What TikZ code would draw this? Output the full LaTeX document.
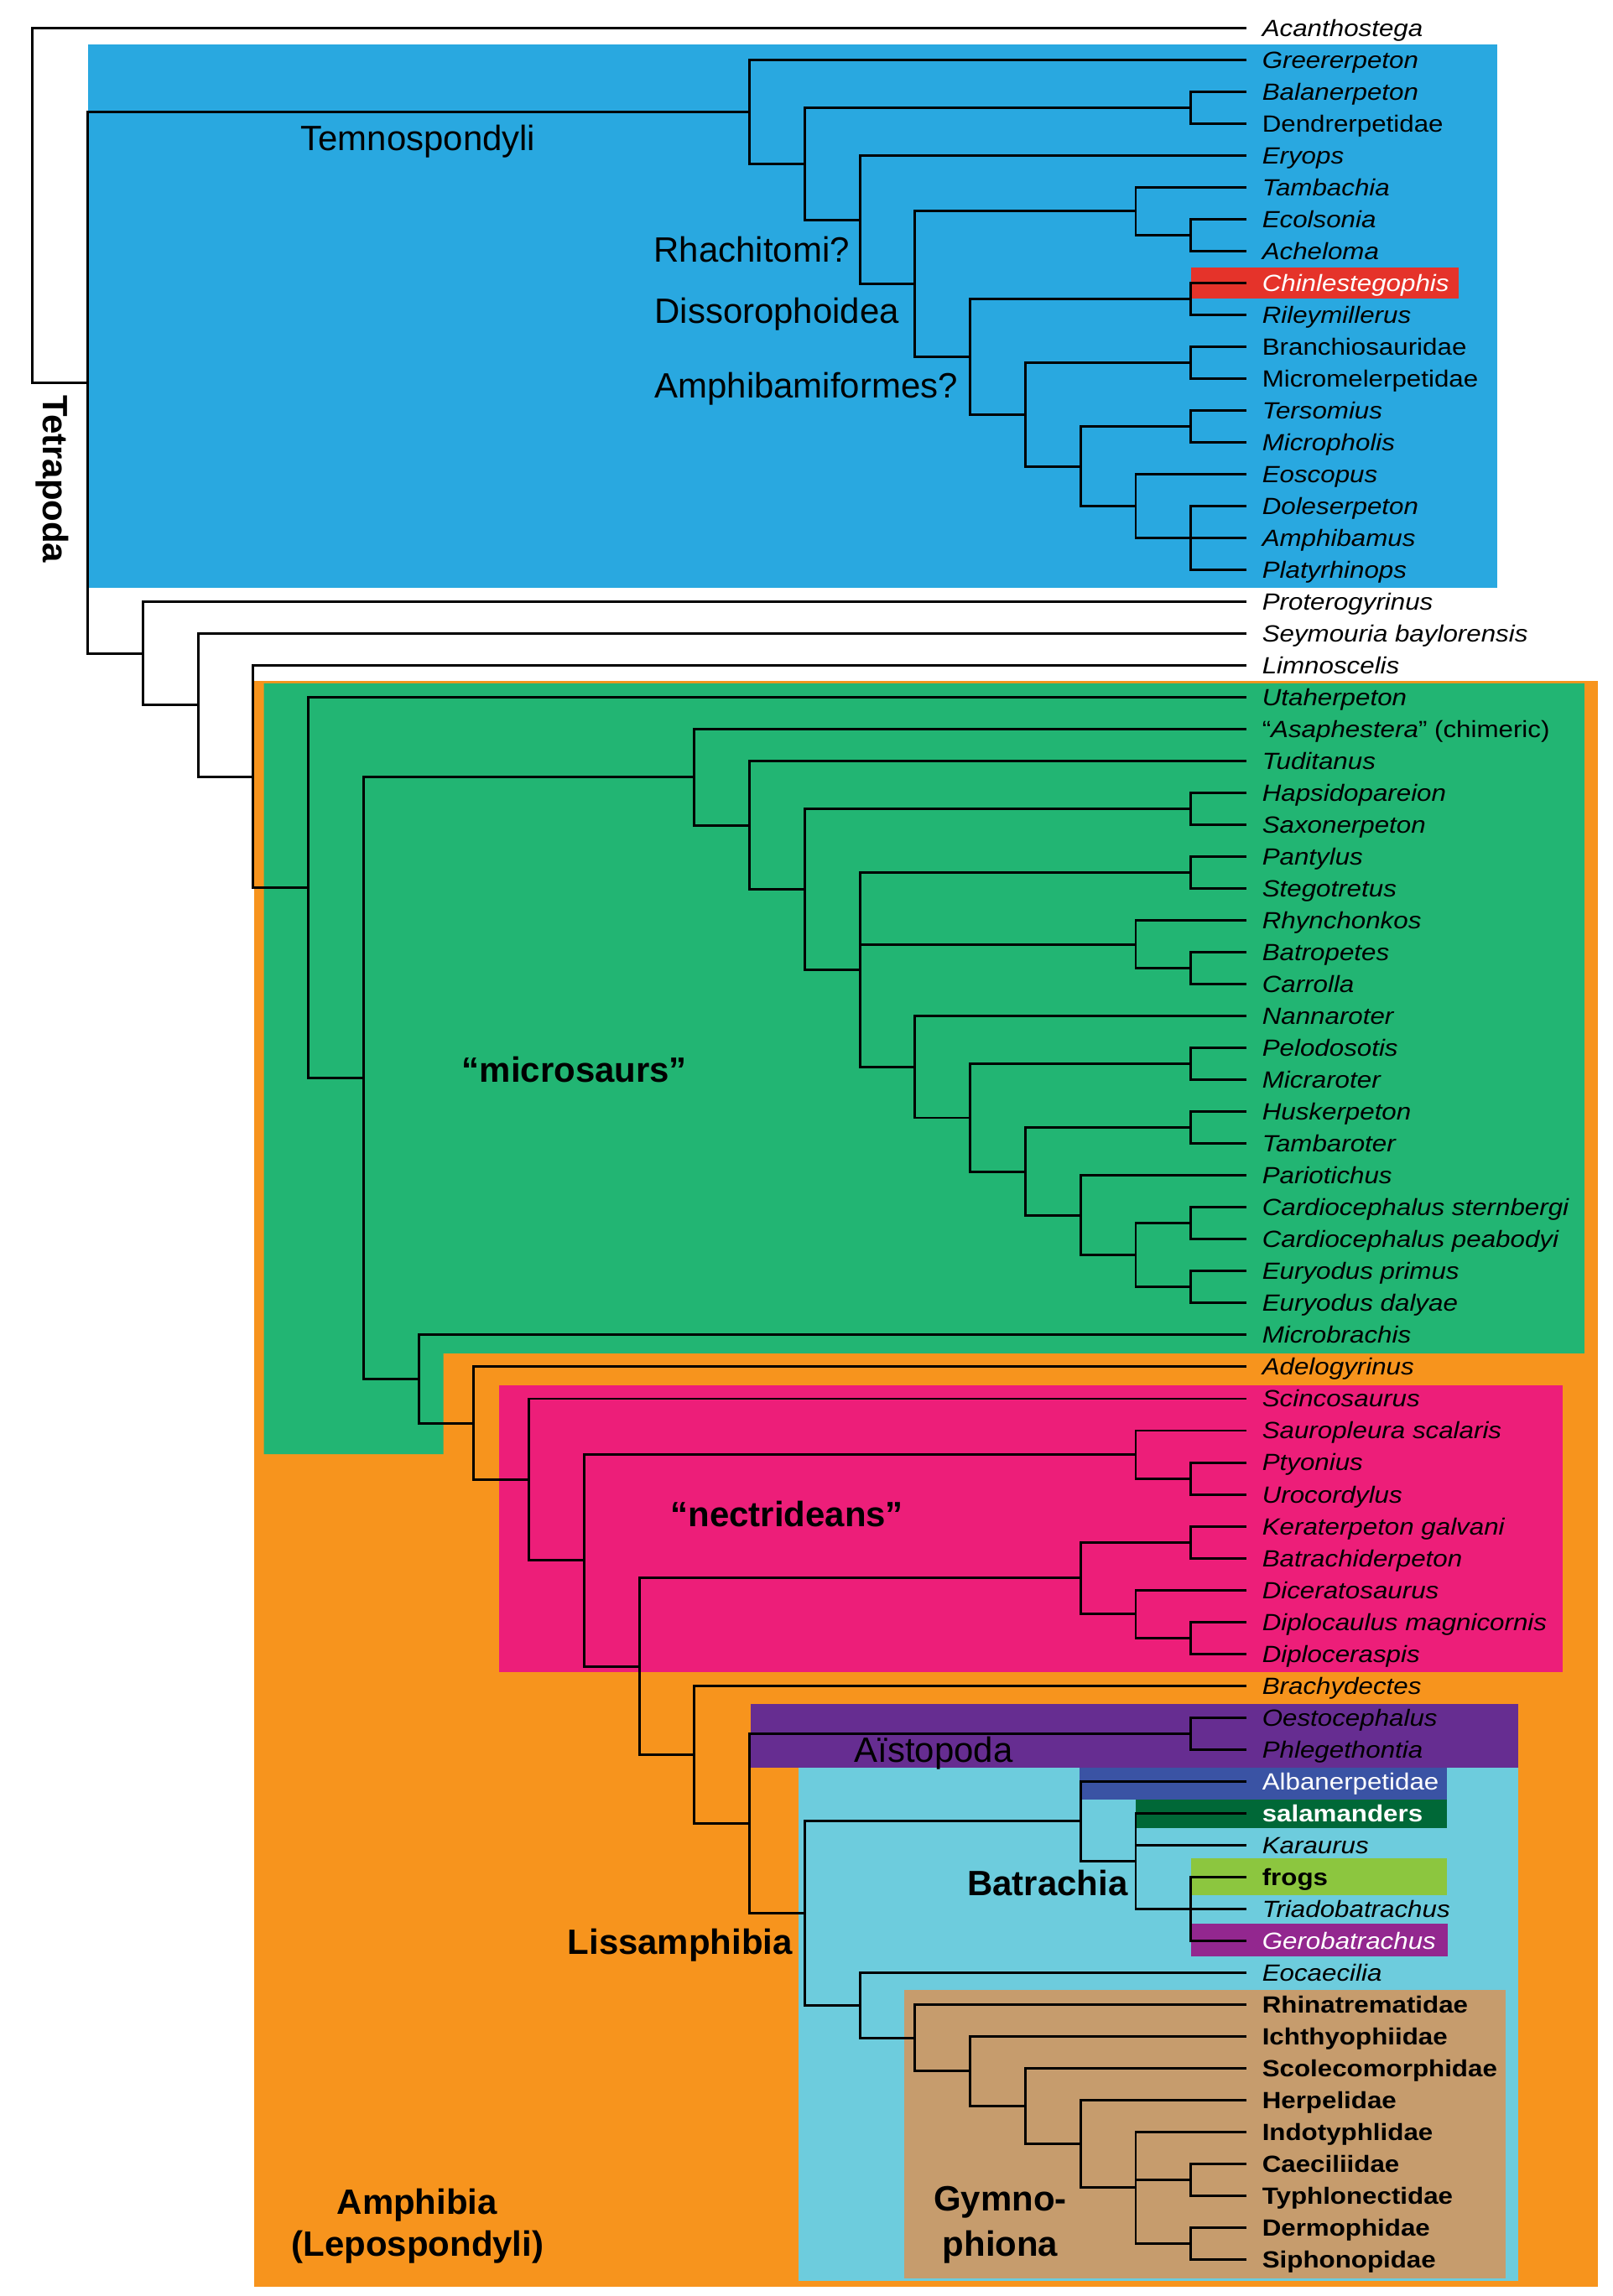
\documentclass[tikz,border=0pt]{standalone}
\usepackage{fontspec}
\setmainfont{Liberation Sans}
\newfontfamily\leaffont[FakeStretch=1.12]{Liberation Sans}
\usetikzlibrary{calc}
\definecolor{cBlue}{HTML}{29A8E0}
\definecolor{cOrange}{HTML}{F7941D}
\definecolor{cGreen}{HTML}{22B573}
\definecolor{cPink}{HTML}{ED1E79}
\definecolor{cPurple}{HTML}{662D91}
\definecolor{cLBlue}{HTML}{6DCCDD}
\definecolor{cTan}{HTML}{C69C6D}
\definecolor{cAlb}{HTML}{3A53A4}
\definecolor{cSal}{HTML}{006837}
\definecolor{cFrog}{HTML}{8CC63F}
\definecolor{cGero}{HTML}{93278F}
\definecolor{cRed}{HTML}{E5332A}
\begin{document}
\begin{tikzpicture}[x=1pt,y=-1pt,
  declare function={row(\k)=19.1+(\k-1)*21.756; X(\k)=22.3+37.63*\k;},
  br/.style={line width=1.7pt, line join=miter, line cap=butt},
  leaf/.style={anchor=base west, inner sep=0pt, xshift=10.5pt, yshift=-5.7pt, font=\leaffont\fontsize{16}{19}\selectfont\itshape},
  leafup/.style={anchor=base west, inner sep=0pt, xshift=10.5pt, yshift=-5.7pt, font=\leaffont\fontsize{16}{19}\selectfont},
  leafbf/.style={anchor=base west, inner sep=0pt, xshift=10.5pt, yshift=-5.7pt, font=\leaffont\fontsize{16}{19}\selectfont\bfseries},
  lab/.style={inner sep=0pt, font=\fontsize{24}{28.6}\selectfont},
  blab/.style={inner sep=0pt, font=\fontsize{24}{28.6}\selectfont\bfseries}
]
\useasboundingbox (0,0) rectangle (1100,1567);
% ---------- coloured boxes ----------
\fill[cOrange] (173.2,464.5) rectangle (1090,1560.5);
\fill[cGreen] (180.1,466.4) -- (1081,466.4) -- (1081,923.7) -- (302.5,923.7) -- (302.5,992.4) -- (180.1,992.4) -- cycle;
\fill[cPink] (340.5,945.3) rectangle (1066,1141);
\fill[cPurple] (512.2,1162.8) rectangle (1036,1206.2);
\fill[cLBlue] (544.7,1206.2) rectangle (1036,1556.7);
\fill[cTan] (616.8,1358.3) rectangle (1027.5,1554.8);
\fill[cBlue] (60,30.5) rectangle (1021.6,401);
\fill[cRed] (812.8,182.6) rectangle (995,204);
\fill[cAlb] (736.6,1206.2) rectangle (987,1228);
\fill[cSal] (774.8,1228) rectangle (987,1247.7);
\fill[cFrog] (812.8,1268.3) rectangle (987,1293.4);
\fill[cGero] (812.8,1313) rectangle (988,1335.4);
% ---------- leaf tips ----------
\foreach \k in {1,...,71} \coordinate (L\k) at (850.5,{row(\k)});
% ---------- internal nodes ----------
\coordinate (root) at ({X(0)},{row(6.562615)});
\coordinate (n60) at ({X(1)},{row(12.12523)});
\coordinate (n98) at ({X(2)},{row(20.621554)});
\coordinate (n135) at ({X(3)},{row(22.243109)});
\coordinate (n173) at ({X(4)},{row(24.486218)});
\coordinate (m210) at ({X(5)},{row(27.972435)});
\coordinate (m248) at ({X(6)},{row(33.94487)});
% Temnospondyli
\coordinate (t512) at ({X(13)},{row(3.62890625)});
\coordinate (t550) at ({X(14)},{row(5.2578125)});
\coordinate (t813f) at ({X(21)},{row(3.5)});
\coordinate (t587) at ({X(15)},{row(7.015625)});
\coordinate (t625) at ({X(16)},{row(9.03125)});
\coordinate (t775b) at ({X(20)},{row(6.75)});
\coordinate (t813e) at ({X(21)},{row(7.5)});
\coordinate (t662) at ({X(17)},{row(11.3125)});
\coordinate (t813d) at ({X(21)},{row(9.5)});
\coordinate (t700) at ({X(18)},{row(13.125)});
\coordinate (t813c) at ({X(21)},{row(11.5)});
\coordinate (t737) at ({X(19)},{row(14.75)});
\coordinate (t813b) at ({X(21)},{row(13.5)});
\coordinate (t775) at ({X(20)},{row(16)});
\coordinate (t813a) at ({X(21)},{row(17)});
% microsaurs
\coordinate (m474) at ({X(12)},{row(24.505859)});
\coordinate (m512) at ({X(13)},{row(26.01171875)});
\coordinate (m550) at ({X(14)},{row(28.0234375)});
\coordinate (m813g) at ({X(21)},{row(25.5)});
\coordinate (m587) at ({X(15)},{row(30.546875)});
\coordinate (m813f) at ({X(21)},{row(27.5)});
\coordinate (m775b) at ({X(20)},{row(29.75)});
\coordinate (m813e) at ({X(21)},{row(30.5)});
\coordinate (m625) at ({X(16)},{row(33.59375)});
\coordinate (m662) at ({X(17)},{row(35.1875)});
\coordinate (m813d) at ({X(21)},{row(33.5)});
\coordinate (m700) at ({X(18)},{row(36.875)});
\coordinate (m813c) at ({X(21)},{row(35.5)});
\coordinate (m737) at ({X(19)},{row(38.25)});
\coordinate (m775) at ({X(20)},{row(39.5)});
\coordinate (m813a) at ({X(21)},{row(38.5)});
\coordinate (m813b) at ({X(21)},{row(40.5)});
% Amphibia lower part
\coordinate (a287) at ({X(7)},{row(43.383881)});
\coordinate (a324) at ({X(8)},{row(44.767761)});
\coordinate (a361) at ({X(9)},{row(46.535522)});
\coordinate (a399) at ({X(10)},{row(49.071045)});
\coordinate (c775) at ({X(20)},{row(45.75)});
\coordinate (c813a) at ({X(21)},{row(46.5)});
\coordinate (a437) at ({X(11)},{row(52.39209)});
\coordinate (c737) at ({X(19)},{row(49.625)});
\coordinate (c813b) at ({X(21)},{row(48.5)});
\coordinate (c775b) at ({X(20)},{row(50.75)});
\coordinate (c813c) at ({X(21)},{row(51.5)});
\coordinate (a474) at ({X(12)},{row(55.15918)});
\coordinate (a512) at ({X(13)},{row(57.318359)});
\coordinate (a813) at ({X(21)},{row(54.5)});
\coordinate (b550) at ({X(14)},{row(60.13671875)});
\coordinate (b737) at ({X(19)},{row(57.25)});
\coordinate (b775) at ({X(20)},{row(58.5)});
\coordinate (b813) at ({X(21)},{row(60)});
\coordinate (g587) at ({X(15)},{row(63.0234375)});
\coordinate (g625) at ({X(16)},{row(64.046875)});
\coordinate (g662) at ({X(17)},{row(65.09375)});
\coordinate (g700) at ({X(18)},{row(66.1875)});
\coordinate (g737) at ({X(19)},{row(67.375)});
\coordinate (g775) at ({X(20)},{row(68.75)});
\coordinate (g813a) at ({X(21)},{row(68.5)});
\coordinate (g813b) at ({X(21)},{row(70.5)});
% ---------- branches ----------
\draw[br] (L1) -| (root) |- (n60);
\draw[br] (t512) -| (n60) |- (n98);
\draw[br] (L2) -| (t512) |- (t550);
\draw[br] (t813f) -| (t550) |- (t587);
\draw[br] (L3) -| (t813f) |- (L4);
\draw[br] (L5) -| (t587) |- (t625);
\draw[br] (t775b) -| (t625) |- (t662);
\draw[br] (L6) -| (t775b) |- (t813e);
\draw[br] (L7) -| (t813e) |- (L8);
\draw[br] (t813d) -| (t662) |- (t700);
\draw[br] (L9) -| (t813d) |- (L10);
\draw[br] (t813c) -| (t700) |- (t737);
\draw[br] (L11) -| (t813c) |- (L12);
\draw[br] (t813b) -| (t737) |- (t775);
\draw[br] (L13) -| (t813b) |- (L14);
\draw[br] (L15) -| (t775) |- (t813a);
\draw[br] (L16) -| (t813a) |- (L18);
\draw[br] (t813a) -- (L17);
\draw[br] (L19) -| (n98) |- (n135);
\draw[br] (L20) -| (n135) |- (n173);
\draw[br] (L21) -| (n173) |- (m210);
\draw[br] (L22) -| (m210) |- (m248);
\draw[br] (m474) -| (m248) |- (a287);
\draw[br] (L23) -| (m474) |- (m512);
\draw[br] (L24) -| (m512) |- (m550);
\draw[br] (m813g) -| (m550) |- (m587);
\draw[br] (L25) -| (m813g) |- (L26);
\draw[br] (m813f) -| (m587) |- (m625);
\draw[br] (m587 |- m775b) -- (m775b);
\draw[br] (L27) -| (m813f) |- (L28);
\draw[br] (L29) -| (m775b) |- (m813e);
\draw[br] (L30) -| (m813e) |- (L31);
\draw[br] (L32) -| (m625) |- (m662);
\draw[br] (m813d) -| (m662) |- (m700);
\draw[br] (L33) -| (m813d) |- (L34);
\draw[br] (m813c) -| (m700) |- (m737);
\draw[br] (L35) -| (m813c) |- (L36);
\draw[br] (L37) -| (m737) |- (m775);
\draw[br] (m813a) -| (m775) |- (m813b);
\draw[br] (L38) -| (m813a) |- (L39);
\draw[br] (L40) -| (m813b) |- (L41);
\draw[br] (L42) -| (a287) |- (a324);
\draw[br] (L43) -| (a324) |- (a361);
\draw[br] (L44) -| (a361) |- (a399);
\draw[br] (c775) -| (a399) |- (a437);
\draw[br] (L45) -| (c775) |- (c813a);
\draw[br] (L46) -| (c813a) |- (L47);
\draw[br] (c737) -| (a437) |- (a474);
\draw[br] (c813b) -| (c737) |- (c775b);
\draw[br] (L48) -| (c813b) |- (L49);
\draw[br] (L50) -| (c775b) |- (c813c);
\draw[br] (L51) -| (c813c) |- (L52);
\draw[br] (L53) -| (a474) |- (a512);
\draw[br] (a813) -| (a512) |- (b550);
\draw[br] (L54) -| (a813) |- (L55);
\draw[br] (b737) -| (b550) |- (g587);
\draw[br] (L56) -| (b737) |- (b775);
\draw[br] (L57) -| (b775) |- (b813);
\draw[br] (b775 |- L58) -- (L58);
\draw[br] (b813) -- (L60);
\draw[br] (L59) -| (b813) |- (L61);
\draw[br] (L62) -| (g587) |- (g625);
\draw[br] (L63) -| (g625) |- (g662);
\draw[br] (L64) -| (g662) |- (g700);
\draw[br] (L65) -| (g700) |- (g737);
\draw[br] (L66) -| (g737) |- (g775);
\draw[br] (L67) -| (g775) |- (g813b);
\draw[br] (g775 |- g813a) -- (g813a);
\draw[br] (L68) -| (g813a) |- (L69);
\draw[br] (L70) -| (g813b) |- (L71);
% ---------- leaf labels ----------
\node[leaf] (T1) at (L1) {Acanthostega};
\node[leaf] (T2) at (L2) {Greererpeton};
\node[leaf] (T3) at (L3) {Balanerpeton};
\node[leafup] (T4) at (L4) {Dendrerpetidae};
\node[leaf] (T5) at (L5) {Eryops};
\node[leaf] (T6) at (L6) {Tambachia};
\node[leaf] (T7) at (L7) {Ecolsonia};
\node[leaf] (T8) at (L8) {Acheloma};
\node[leaf, text=white] (T9) at (L9) {Chinlestegophis};
\node[leaf] (T10) at (L10) {Rileymillerus};
\node[leafup] (T11) at (L11) {Branchiosauridae};
\node[leafup] (T12) at (L12) {Micromelerpetidae};
\node[leaf] (T13) at (L13) {Tersomius};
\node[leaf] (T14) at (L14) {Micropholis};
\node[leaf] (T15) at (L15) {Eoscopus};
\node[leaf] (T16) at (L16) {Doleserpeton};
\node[leaf] (T17) at (L17) {Amphibamus};
\node[leaf] (T18) at (L18) {Platyrhinops};
\node[leaf] (T19) at (L19) {Proterogyrinus};
\node[leaf] (T20) at (L20) {Seymouria baylorensis};
\node[leaf] (T21) at (L21) {Limnoscelis};
\node[leaf] (T22) at (L22) {Utaherpeton};
\node[leafup] (T23) at (L23) {“\textit{Asaphestera}” (chimeric)};
\node[leaf] (T24) at (L24) {Tuditanus};
\node[leaf] (T25) at (L25) {Hapsidopareion};
\node[leaf] (T26) at (L26) {Saxonerpeton};
\node[leaf] (T27) at (L27) {Pantylus};
\node[leaf] (T28) at (L28) {Stegotretus};
\node[leaf] (T29) at (L29) {Rhynchonkos};
\node[leaf] (T30) at (L30) {Batropetes};
\node[leaf] (T31) at (L31) {Carrolla};
\node[leaf] (T32) at (L32) {Nannaroter};
\node[leaf] (T33) at (L33) {Pelodosotis};
\node[leaf] (T34) at (L34) {Micraroter};
\node[leaf] (T35) at (L35) {Huskerpeton};
\node[leaf] (T36) at (L36) {Tambaroter};
\node[leaf] (T37) at (L37) {Pariotichus};
\node[leaf] (T38) at (L38) {Cardiocephalus sternbergi};
\node[leaf] (T39) at (L39) {Cardiocephalus peabodyi};
\node[leaf] (T40) at (L40) {Euryodus primus};
\node[leaf] (T41) at (L41) {Euryodus dalyae};
\node[leaf] (T42) at (L42) {Microbrachis};
\node[leaf] (T43) at (L43) {Adelogyrinus};
\node[leaf] (T44) at (L44) {Scincosaurus};
\node[leaf] (T45) at (L45) {Sauropleura scalaris};
\node[leaf] (T46) at (L46) {Ptyonius};
\node[leaf] (T47) at (L47) {Urocordylus};
\node[leaf] (T48) at (L48) {Keraterpeton galvani};
\node[leaf] (T49) at (L49) {Batrachiderpeton};
\node[leaf] (T50) at (L50) {Diceratosaurus};
\node[leaf] (T51) at (L51) {Diplocaulus magnicornis};
\node[leaf] (T52) at (L52) {Diploceraspis};
\node[leaf] (T53) at (L53) {Brachydectes};
\node[leaf] (T54) at (L54) {Oestocephalus};
\node[leaf] (T55) at (L55) {Phlegethontia};
\node[leafup, text=white] (T56) at (L56) {Albanerpetidae};
\node[leafbf, text=white] (T57) at (L57) {salamanders};
\node[leaf] (T58) at (L58) {Karaurus};
\node[leafbf] (T59) at (L59) {frogs};
\node[leaf] (T60) at (L60) {Triadobatrachus};
\node[leaf, text=white] (T61) at (L61) {Gerobatrachus};
\node[leaf] (T62) at (L62) {Eocaecilia};
\node[leafbf] (T63) at (L63) {Rhinatrematidae};
\node[leafbf] (T64) at (L64) {Ichthyophiidae};
\node[leafbf] (T65) at (L65) {Scolecomorphidae};
\node[leafbf] (T66) at (L66) {Herpelidae};
\node[leafbf] (T67) at (L67) {Indotyphlidae};
\node[leafbf] (T68) at (L68) {Caeciliidae};
\node[leafbf] (T69) at (L69) {Typhlonectidae};
\node[leafbf] (T70) at (L70) {Dermophidae};
\node[leafbf] (T71) at (L71) {Siphonopidae};
% ---------- clade labels ----------
\node[blab, rotate=-90, anchor=base] (tetra) at (29.6,327) {Tetrapoda};
\node[lab, anchor=base west] (temno) at (205,103) {Temnospondyli};
\node[lab, anchor=base west] (rhach) at (446,178.6) {Rhachitomi?};
\node[lab, anchor=base west] (disso) at (446.5,220.6) {Dissorophoidea};
\node[lab, anchor=base west] (amphib) at (446.5,271.6) {Amphibamiformes?};
\node[blab, anchor=base] (micro) at (392,738.6) {“microsaurs”};
\node[blab, anchor=base] (nect) at (537,1041.6) {“nectrideans”};
\node[lab, anchor=base] (aist) at (637,1202.8) {Aïstopoda};
\node[blab, anchor=base] (batr) at (714.7,1293.5) {Batrachia};
\node[blab, anchor=base] (liss) at (464,1333.6) {Lissamphibia};
\node[blab, anchor=base] (amph1) at (284.6,1511) {Amphibia};
\node[blab, anchor=base] (amph2) at (285,1539.6) {(Lepospondyli)};
\node[blab, anchor=base] (gym1) at (682.5,1509) {Gymno-};
\node[blab, anchor=base] (gym2) at (682.5,1539.6) {phiona};
\end{tikzpicture}
\end{document}
